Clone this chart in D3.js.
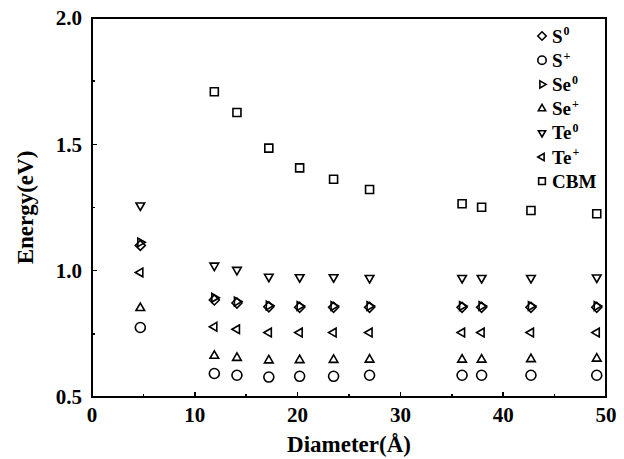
<!DOCTYPE html>
<meta charset="utf-8">
<script src="https://cdn.jsdelivr.net/npm/d3@7"></script>
<style type="text/css">
    body { margin: 0; background: #fff; }
    text { font-family: "Liberation Serif", "Times New Roman", serif; font-weight: bold; fill: #000; }
    .frame { fill: none; stroke: #000; stroke-width: 2; shape-rendering: crispEdges; }
    .tick-line { stroke: #000; stroke-width: 1.5; shape-rendering: crispEdges; }
    .mark { fill: none; stroke: #000; stroke-width: 1.6; }
</style>
<body>
<script>
    // nanocrystal diameters (Angstrom)
    var diameters = [4.7, 11.9, 14.1, 17.2, 20.2, 23.5, 27.0, 36.0, 37.9, 42.7, 49.1];

    // energies (eV) per series, same order as diameters
    var s0  = [1.100, 0.884, 0.872, 0.857, 0.855, 0.855, 0.855, 0.855, 0.855, 0.855, 0.855];
    var sP  = [0.775, 0.593, 0.586, 0.579, 0.582, 0.582, 0.586, 0.586, 0.586, 0.586, 0.586];
    var se0 = [1.112, 0.893, 0.878, 0.862, 0.860, 0.860, 0.860, 0.860, 0.860, 0.860, 0.860];
    var seP = [0.852, 0.663, 0.655, 0.645, 0.646, 0.647, 0.648, 0.648, 0.648, 0.650, 0.652];
    var te0 = [1.258, 1.020, 1.003, 0.976, 0.974, 0.974, 0.971, 0.971, 0.971, 0.971, 0.973];
    var teP = [0.993, 0.778, 0.768, 0.755, 0.755, 0.755, 0.755, 0.755, 0.755, 0.755, 0.755];
    var cbm = [null, 1.708, 1.626, 1.485, 1.407, 1.362, 1.321, 1.265, 1.251, 1.238, 1.225];

    var seriesNames = ["S", "S", "Se", "Se", "Te", "Te", "CBM"];
    var seriesSups  = ["0", "+", "0", "+", "0", "+", ""];
    var seriesShapes = ["diamond", "circle", "right", "up", "down", "left", "square"];
    var seriesValues = [s0, sP, se0, seP, te0, teP, cbm];

    var xTicks = [0, 10, 20, 30, 40, 50],
        xMinor = [5, 15, 25, 35, 45],
        yTicks = [0.5, 1.0, 1.5, 2.0],
        yMinor = [0.75, 1.25, 1.75];

    var W = 624, H = 459;
    var plotL = 92, plotR = 606, plotT = 18, plotB = 397;

    var x = d3.scaleLinear().domain([0, 50]).range([plotL, plotR]);
    var y = d3.scaleLinear().domain([0.5, 2.0]).range([plotB, plotT]);

    var svg = d3.select("body").append("svg")
        .attr("width", W)
        .attr("height", H);

    // marker shapes
    function shapePath(kind, r) {
        var h = r * 0.866;
        switch (kind) {
            case "diamond": return "M0," + (-r) + "L" + r + ",0L0," + r + "L" + (-r) + ",0Z";
            case "circle": return d3.symbol().type(d3.symbolCircle).size(Math.PI * r * r)();
            case "square": return "M" + (-r * 0.8) + "," + (-r * 0.8) + "h" + (r * 1.6) + "v" + (r * 1.6) + "h" + (-r * 1.6) + "Z";
            case "up": return "M0," + (-r) + "L" + h + "," + (r / 2) + "L" + (-h) + "," + (r / 2) + "Z";
            case "down": return "M0," + r + "L" + h + "," + (-r / 2) + "L" + (-h) + "," + (-r / 2) + "Z";
            case "right": return "M" + r + ",0L" + (-r / 2) + "," + h + "L" + (-r / 2) + "," + (-h) + "Z";
            case "left": return "M" + (-r) + ",0L" + (r / 2) + "," + h + "L" + (r / 2) + "," + (-h) + "Z";
        }
    }

    // ticks (inward, bottom and left only)
    svg.selectAll(".xmaj").data(xTicks).enter().append("line")
        .attr("class", "tick-line")
        .attr("x1", function(d){ return x(d); }).attr("x2", function(d){ return x(d); })
        .attr("y1", plotB).attr("y2", plotB - 5);
    svg.selectAll(".xmin").data(xMinor).enter().append("line")
        .attr("class", "tick-line")
        .attr("x1", function(d){ return x(d); }).attr("x2", function(d){ return x(d); })
        .attr("y1", plotB).attr("y2", plotB - 3);
    svg.selectAll(".ymaj").data(yTicks).enter().append("line")
        .attr("class", "tick-line")
        .attr("x1", plotL).attr("x2", plotL + 5)
        .attr("y1", function(d){ return y(d); }).attr("y2", function(d){ return y(d); });
    svg.selectAll(".ymin").data(yMinor).enter().append("line")
        .attr("class", "tick-line")
        .attr("x1", plotL).attr("x2", plotL + 3)
        .attr("y1", function(d){ return y(d); }).attr("y2", function(d){ return y(d); });

    // frame
    svg.append("rect")
        .attr("class", "frame")
        .attr("x", plotL).attr("y", plotT)
        .attr("width", plotR - plotL).attr("height", plotB - plotT);

    // tick labels
    svg.selectAll(".xlab").data(xTicks).enter().append("text")
        .attr("x", function(d){ return x(d); })
        .attr("y", plotB + 25)
        .attr("text-anchor", "middle")
        .style("font-size", "21px")
        .text(function(d){ return d; });
    svg.selectAll(".ylab").data(yTicks).enter().append("text")
        .attr("x", plotL - 10)
        .attr("y", function(d){ return y(d); })
        .attr("dy", "0.35em")
        .attr("text-anchor", "end")
        .style("font-size", "21px")
        .text(function(d){ return d.toFixed(1); });

    // axis titles
    svg.append("text")
        .attr("x", (plotL + plotR) / 2)
        .attr("y", 452)
        .attr("text-anchor", "middle")
        .style("font-size", "23px")
        .text("Diameter(Å)");
    svg.append("text")
        .attr("transform", "translate(33," + ((plotT + plotB) / 2) + ") rotate(-90)")
        .attr("text-anchor", "middle")
        .style("font-size", "23px")
        .text("Energy(eV)");

    // data points
    seriesValues.forEach(function(vals, i){
        var pts = diameters.map(function(d, j){ return {d: d, e: vals[j]}; })
            .filter(function(p){ return p.e != null; });
        svg.selectAll(".s" + i).data(pts).enter().append("path")
            .attr("class", "mark")
            .attr("transform", function(p){ return "translate(" + x(p.d) + "," + y(p.e) + ")"; })
            .attr("d", shapePath(seriesShapes[i], 5));
    });

    // legend
    var legend = svg.selectAll(".legend").data(seriesNames).enter().append("g")
        .attr("transform", function(d, i){ return "translate(542," + (36 + i * 24.2) + ")"; });
    legend.append("path")
        .attr("class", "mark")
        .attr("d", function(d, i){ return shapePath(seriesShapes[i], 4.2); });
    var lt = legend.append("text")
        .attr("x", 10)
        .attr("dy", "0.35em")
        .style("font-size", "19px");
    lt.append("tspan").text(function(d){ return d; });
    lt.append("tspan")
        .attr("dy", "-0.6em")
        .attr("dx", "1")
        .style("font-size", "12px")
        .text(function(d, i){ return seriesSups[i]; });
</script>
</body>
